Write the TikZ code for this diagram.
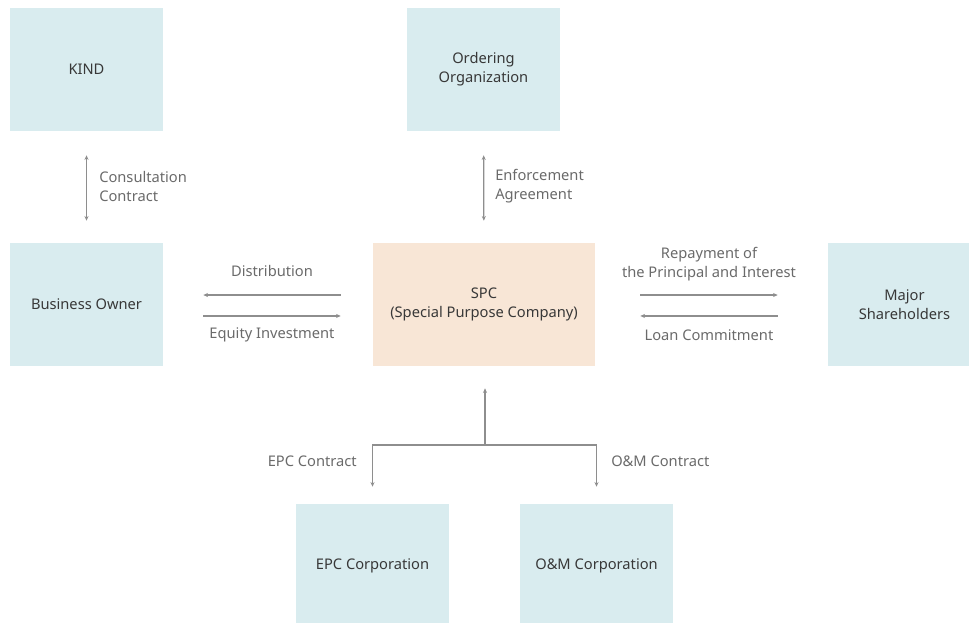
\documentclass[tikz,border=0pt]{standalone}
\usepackage{fontspec}
\setmainfont{Noto Sans}
\usetikzlibrary{arrows.meta}

\definecolor{boxblue}{HTML}{D9ECEF}
\definecolor{boxpeach}{HTML}{F8E6D6}
\definecolor{linegray}{HTML}{8E8E8E}
\definecolor{labelgray}{HTML}{6A6A6A}
\definecolor{textdark}{HTML}{383838}

\tikzset{
  party/.style={fill=boxblue, minimum width=114.75pt, minimum height=92.25pt,
    inner sep=0pt, align=center, text=textdark, font=\fontsize{11}{14.25}\selectfont},
  flow/.style={draw=linegray, line width=0.9pt, -{Stealth[length=3.5pt,width=3pt]}},
  twoway/.style={flow, {Stealth[length=3.5pt,width=3pt]}-{Stealth[length=3.5pt,width=3pt]}},
  note/.style={text=labelgray, inner sep=0pt, font=\fontsize{11}{14.25}\selectfont}
}

\begin{document}
\begin{tikzpicture}[x=0.75pt, y=-0.75pt]
    \clip (0,0) rectangle (969,623);

    % boxes
    \node[party] (kind) at (86.5,69.5) {KIND};
    \node[party] (order) at (483.5,69.5) {Ordering\\Organization};
    \node[party] (owner) at (86.5,304.5) {Business Owner};
    \node[party, fill=boxpeach, minimum width=166.5pt] (spc) at (484,304.5) {SPC\\(Special Purpose Company)};
    \node[party] (holders) at (904.5,304.5) {Major\\Shareholders};
    \node[party] (epc) at (372.5,565.5) {EPC Corporation};
    \node[party] (om) at (596.5,565.5) {O\&M Corporation};

    % vertical links
    \draw[twoway, shorten <=18pt, shorten >=16.5pt] (kind) -- (owner);
    \draw[twoway, shorten <=18pt, shorten >=16.5pt] (order) -- (spc);
    \node[note, anchor=west, align=left] (consult) at (99,186.5) {Consultation\\Contract};
    \node[note, anchor=west, align=left] (enforce) at (495,186.5) {Enforcement\\Agreement};

    % owner <-> spc
    \draw[flow, shorten <=24pt, shorten >=30pt] ([yshift=7.1pt]spc.west) -- ([yshift=7.1pt]owner.east);
    \draw[flow, shorten <=30pt, shorten >=24pt] ([yshift=-8.6pt]owner.east) -- ([yshift=-8.6pt]spc.west);
    \node[note] (distrib) at (272,271) {Distribution};
    \node[note] (equity) at (272,335) {Equity Investment};

    % spc <-> shareholders
    \draw[flow, shorten <=33.75pt, shorten >=37.5pt] ([yshift=7.1pt]spc.east) -- ([yshift=7.1pt]holders.west);
    \draw[flow, shorten <=37.5pt, shorten >=33.75pt] ([yshift=-8.6pt]holders.west) -- ([yshift=-8.6pt]spc.east);
    \node[note, align=center] (repay) at (709,264.5) {Repayment of\\the Principal and Interest};
    \node[note] (loan) at (709,335) {Loan Commitment};

    % contracts below
    \coordinate (fork) at (485,445);
    \draw[flow, shorten >=16.5pt] (fork) -- (fork |- spc.south);
    \draw[flow, shorten >=12.75pt] (fork) -| (epc.north);
    \draw[flow, shorten >=12.75pt] (fork) -| (om.north);
    \node[note, anchor=east] (epcdeal) at (357,461) {EPC Contract};
    \node[note, anchor=west] (omdeal) at (611,461) {O\&M Contract};
\end{tikzpicture}
\end{document}
